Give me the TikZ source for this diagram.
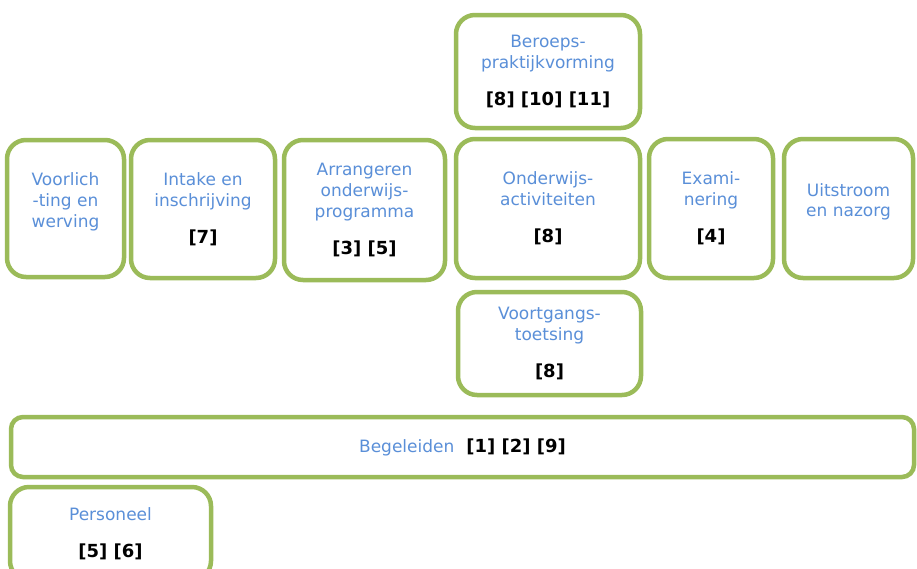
\documentclass[tikz,border=0pt]{standalone}
\usepackage{fontspec}
\setmainfont{DejaVu Sans}
\usetikzlibrary{positioning}

\definecolor{boxgreen}{HTML}{9BBB59}
\definecolor{textblue}{HTML}{5A8FD8}

\newcommand{\refnr}[1]{{\color{black}\fontsize{18pt}{20.8pt}\selectfont\bfseries #1}}

\tikzset{
  stage/.style={rectangle, draw=boxgreen, line width=4.5pt, rounded corners=19pt,
    fill=white, text=textblue, align=center, inner sep=0pt,
    font={\fontsize{17pt}{20.8pt}\selectfont}},
  widestage/.style={stage, rounded corners=12pt}
}

\begin{document}
\begin{tikzpicture}[x=1pt, y=-1pt]
	\useasboundingbox (0,0) rectangle (917,568);
	\clip (0,0) rectangle (917,568);
	%Adding the process boxes
	\foreach \pos/\bw/\bh/\name/\txt in {
		{(65.5,208.5)/117/137/voorlichting/{Voorlich\\-ting en\\werving\\[-4pt]\mbox{}}},
		{(203,209)/144/138/intake/{Intake en\\inschrijving\\[16pt]\refnr{[7]}}},
		{(364.5,210)/161/140/arrangeren/{Arrangeren\\onderwijs-\\programma\\[16pt]\refnr{[3] [5]}}},
		{(548,71.5)/184/113/beroeps/{Beroeps-\\praktijkvorming\\[16pt]\refnr{[8] [10] [11]}}},
		{(548,208.5)/184/139/onderwijs/{Onderwijs-\\activiteiten\\[16pt]\refnr{[8]}}},
		{(711,208.5)/124/139/examinering/{Exami-\\nering\\[16pt]\refnr{[4]}}},
		{(848.5,208.5)/129/139/uitstroom/{Uitstroom\\en nazorg\\[-4pt]\mbox{}}},
		{(549.5,343.5)/183/103/voortgang/{Voortgangs-\\toetsing\\[16pt]\refnr{[8]}}}}
	\node[stage, minimum width=\bw pt, minimum height=\bh pt] (\name) at \pos {\txt};
	%Adding the support boxes
	\node[widestage, minimum width=903pt, minimum height=60pt] (begeleiden) at (462.5,447)
		{Begeleiden\hspace{12pt}\refnr{[1] [2] [9]}};
	\node[stage, minimum width=201pt, minimum height=93pt] (personeel) at (110.5,533.5)
		{Personeel\\[16pt]\refnr{[5] [6]}};
\end{tikzpicture}
\end{document}
